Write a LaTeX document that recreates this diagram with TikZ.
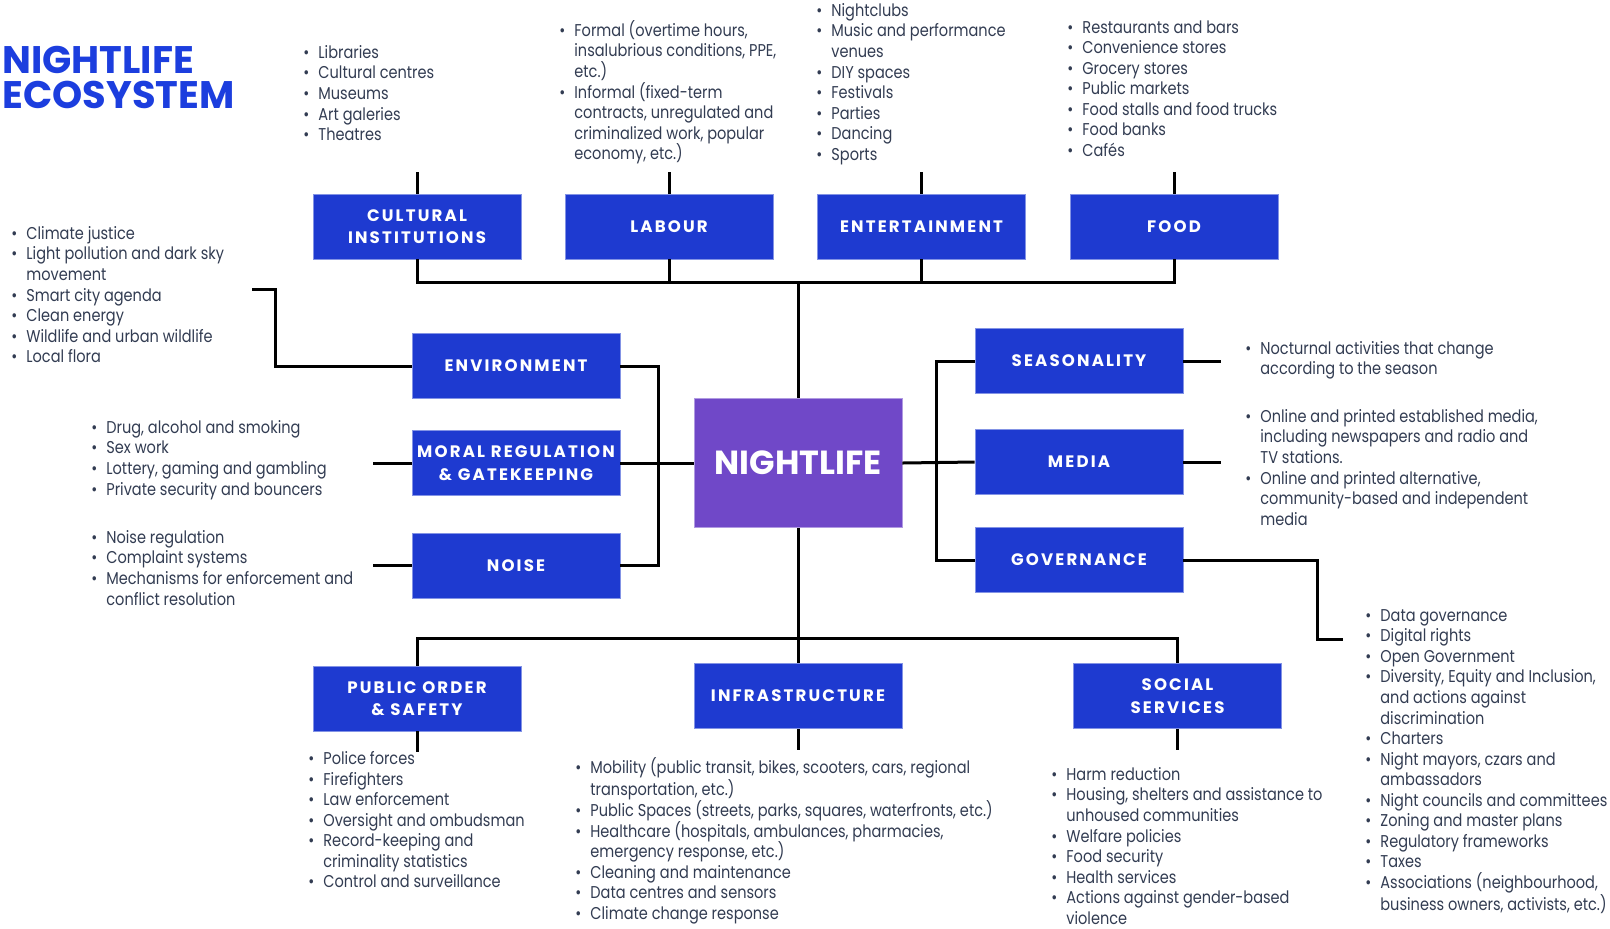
\documentclass[tikz,border=0pt]{standalone}
\usepackage{fontspec}
\usepackage{tikz}
\usepackage{xcolor}
\usetikzlibrary{positioning, calc}
\setmainfont{Poppins}[FakeStretch=0.85]
\newfontfamily\boxfont{Poppins}[LetterSpace=13]
\newfontfamily\headfont{Poppins}
\definecolor{ecoblue}{RGB}{30, 58, 208}
\definecolor{ecotitle}{RGB}{28, 62, 222}
\definecolor{ecopurple}{RGB}{112, 72, 200}
\definecolor{ecotext}{RGB}{50, 60, 82}
\newcommand{\bul}{\makebox[0pt][r]{\textbullet\hspace{4.5pt}}}
\tikzset{
    ecobox/.style={rectangle, fill=ecoblue, draw=ecoblue!55!white, line width=0.4pt, text=white,
        minimum width=104pt, minimum height=32.5pt, inner sep=0pt, align=center,
        font=\boxfont\bfseries\fontsize{8.3}{11.3}\selectfont},
    hubbox/.style={ecobox, fill=ecopurple, draw=ecopurple!55!white, minimum height=64.5pt,
        font=\headfont\bfseries\fontsize{16.7}{20}\selectfont},
    ecolist/.style={anchor=north west, inner sep=0pt, align=left, text=ecotext,
        font=\fontsize{8.55}{10.27}\selectfont},
    link/.style={draw=black, line width=1.5pt}
}

\begin{document}
\begin{tikzpicture}[x=0.5pt, y=-0.5pt]
    \useasboundingbox[fill=white] (0,0) rectangle (1610,928);
    % Title
    \node[anchor=north west, inner sep=0pt, text=ecotitle, align=left,
        font=\headfont\bfseries\fontsize{19.2}{17.5}\selectfont] (title) at (2,46) {NIGHTLIFE\\ECOSYSTEM};

    % Boxes
    \node[hubbox] (night) at (798,463) {NIGHTLIFE};
    \node[ecobox] (cult) at (417,226.5) {CULTURAL\\INSTITUTIONS};
    \node[ecobox] (lab) at (669,226.5) {LABOUR};
    \node[ecobox] (ent) at (921.5,226.5) {ENTERTAINMENT};
    \node[ecobox] (food) at (1174,226.5) {FOOD};
    \node[ecobox] (env) at (516,366) {ENVIRONMENT};
    \node[ecobox] (moral) at (516,463) {MORAL REGULATION\\\& GATEKEEPING};
    \node[ecobox] (noise) at (516,565.5) {NOISE};
    \node[ecobox] (seas) at (1079,361) {SEASONALITY};
    \node[ecobox] (media) at (1079,462) {MEDIA};
    \node[ecobox] (gov) at (1079,560) {GOVERNANCE};
    \node[ecobox] (pub) at (417,698.5) {PUBLIC ORDER\\\& SAFETY};
    \node[ecobox] (infra) at (798,696) {INFRASTRUCTURE};
    \node[ecobox] (soc) at (1177.5,696) {SOCIAL\\SERVICES};

    % Top branch
    \coordinate (topbus) at (798,282);
    \draw[link] (cult.south) |- (topbus) -| (food.south);
    \draw[link] (lab.south) -- (lab.south |- topbus);
    \draw[link] (ent.south) -- (ent.south |- topbus);
    \draw[link] (topbus) -- (night.north);
    \foreach \b in {cult, lab, ent, food}
        \draw[link] (\b.north) -- ++(0,-22);

    % Bottom branch
    \coordinate (botbus) at (798,638);
    \draw[link] (pub.north) |- (botbus) -| (soc.north);
    \draw[link] (night.south) -- (infra.north);
    \foreach \b in {pub, infra, soc}
        \draw[link] (\b.south) -- ++(0,21);

    % Left branch
    \coordinate (lbus) at (658,463);
    \coordinate (envend) at (252,289);
    \draw[link] (env.east) -| (lbus) |- (noise.east);
    \draw[link] (moral.east) -- (night.west);
    \draw[link] (env.west) -- ++(-136,0) |- (envend);
    \draw[link] (moral.west) -- ++(-39,0);
    \draw[link] (noise.west) -- ++(-39,0);

    % Right branch
    \coordinate (rbus) at (936,462);
    \coordinate (govend) at (1343,639);
    \draw[link] (night.east) -- (media.west);
    \draw[link] (seas.west) -| (rbus) |- (gov.west);
    \draw[link] (seas.east) -- ++(38,0);
    \draw[link] (media.east) -- ++(38,0);
    \draw[link] (gov.east) -- ++(134,0) |- (govend);

    % Lists
    \node[ecolist] (culttxt) at (318,45) {\bul Libraries\\\bul Cultural centres\\\bul Museums\\\bul Art galeries\\\bul Theatres};
    \node[ecolist] (labtxt) at (574,20) {\bul Formal (overtime hours,\\insalubrious conditions, PPE,\\etc.)\\\bul Informal (fixed-term\\contracts, unregulated and\\criminalized work, popular\\economy, etc.)};
    \node[ecolist] (enttxt) at (831,3) {\bul Nightclubs\\\bul Music and performance\\venues\\\bul DIY spaces\\\bul Festivals\\\bul Parties\\\bul Dancing\\\bul Sports};
    \node[ecolist] (foodtxt) at (1082,20) {\bul Restaurants and bars\\\bul Convenience stores\\\bul Grocery stores\\\bul Public markets\\\bul Food stalls and food trucks\\\bul Food banks\\\bul Cafés};
    \node[ecolist] (envtxt) at (26,226) {\bul Climate justice\\\bul Light pollution and dark sky\\movement\\\bul Smart city agenda\\\bul Clean energy\\\bul Wildlife and urban wildlife\\\bul Local flora};
    \node[ecolist] (moraltxt) at (106,420) {\bul Drug, alcohol and smoking\\\bul Sex work\\\bul Lottery, gaming and gambling\\\bul Private security and bouncers};
    \node[ecolist] (noisetxt) at (106,530) {\bul Noise regulation\\\bul Complaint systems\\\bul Mechanisms for enforcement and\\conflict resolution};
    \node[ecolist] (seastxt) at (1260,341) {\bul Nocturnal activities that change\\according to the season};
    \node[ecolist] (mediatxt) at (1260,409) {\bul Online and printed established media,\\including newspapers and radio and\\TV stations.\\\bul Online and printed alternative,\\community-based and independent\\media};
    \node[ecolist] (govtxt) at (1380,609) {\bul Data governance\\\bul Digital rights\\\bul Open Government\\\bul Diversity, Equity and Inclusion,\\and actions against\\discrimination\\\bul Charters\\\bul Night mayors, czars and\\ambassadors\\\bul Night councils and committees\\\bul Zoning and master plans\\\bul Regulatory frameworks\\\bul Taxes\\\bul Associations (neighbourhood,\\business owners, activists, etc.)};
    \node[ecolist] (pubtxt) at (323,751) {\bul Police forces\\\bul Firefighters\\\bul Law enforcement\\\bul Oversight and ombudsman\\\bul Record-keeping and\\criminality statistics\\\bul Control and surveillance};
    \node[ecolist] (infratxt) at (590,757) {\bul Mobility (public transit, bikes, scooters, cars, regional\\transportation, etc.)\\\bul Public Spaces (streets, parks, squares, waterfronts, etc.)\\\bul Healthcare (hospitals, ambulances, pharmacies,\\emergency response, etc.)\\\bul Cleaning and maintenance\\\bul Data centres and sensors\\\bul Climate change response};
    \node[ecolist] (soctxt) at (1066,767) {\bul Harm reduction\\\bul Housing, shelters and assistance to\\unhoused communities\\\bul Welfare policies\\\bul Food security\\\bul Health services\\\bul Actions against gender-based\\violence};
\end{tikzpicture}
\end{document}
